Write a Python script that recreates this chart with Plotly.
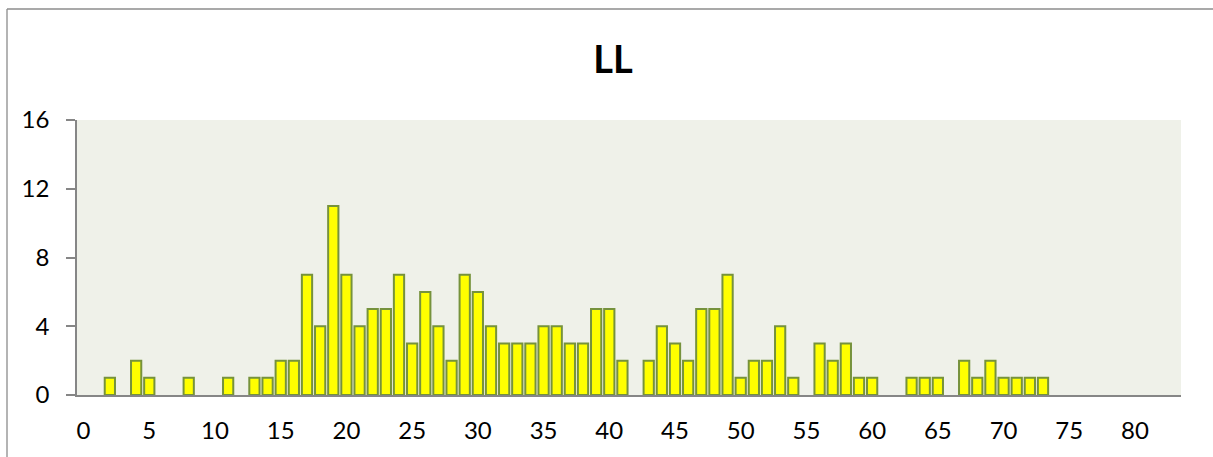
import plotly.graph_objects as go

# Data
categories = list(range(0, 84))
values = [0, 0, 1, 0, 2, 1, 0, 0, 1, 0,
          0, 1, 0, 1, 1, 2, 2, 7, 4, 11,
          7, 4, 5, 5, 7, 3, 6, 4, 2, 7,
          6, 4, 3, 3, 3, 4, 4, 3, 3, 5,
          5, 2, 0, 2, 4, 3, 2, 5, 5, 7,
          1, 2, 2, 4, 1, 0, 3, 2, 3, 1,
          1, 0, 0, 1, 1, 1, 0, 2, 1, 2,
          1, 1, 1, 1, 0, 0, 0, 0, 0, 0,
          0, 0, 0, 0]
x_tick_labels = [0, 5, 10, 15, 20, 25, 30, 35, 40, 45, 50, 55, 60, 65, 70, 75, 80]
y_tick_labels = [0, 4, 8, 12, 16]
title_text = "LL"

W, H = 1213, 457
L, R, T, B = 77, 1181, 120, 395

plot_y = [v if v != 0 else None for v in values]

fig = go.Figure()
fig.add_trace(go.Bar(
    x=categories,
    y=plot_y,
    marker=dict(color="#FFFF00", line=dict(color="#76923C", width=2)),
    hoverinfo="x+y",
))

def px_to_paper_x(px):
    return (px - L) / (R - L)

def px_to_paper_y(py):
    return (B - py) / (B - T)

shapes = [
    dict(type="line", xref="paper", yref="paper",
         x0=px_to_paper_x(7), x1=px_to_paper_x(1220),
         y0=px_to_paper_y(9), y1=px_to_paper_y(9),
         line=dict(color="#8C8C8C", width=1.3)),
    dict(type="line", xref="paper", yref="paper",
         x0=px_to_paper_x(7), x1=px_to_paper_x(7),
         y0=px_to_paper_y(9), y1=px_to_paper_y(470),
         line=dict(color="#8C8C8C", width=1.3)),
]

fig.update_layout(
    width=W, height=H,
    margin=dict(l=L, r=W - R, t=T, b=H - B, pad=0),
    paper_bgcolor="white",
    plot_bgcolor="#EFF1E9",
    font=dict(family="Lato, 'Open Sans', sans-serif", size=24, color="black"),
    title=dict(text="<b>" + title_text + "</b>", x=613 / W, xref="container",
               xanchor="center", y=1 - 60 / H, yref="container", yanchor="middle",
               font=dict(size=38, family="Lato, 'Open Sans', sans-serif", color="black")),
    bargap=0.22,
    showlegend=False,
    shapes=shapes,
)

fig.update_xaxes(
    range=[-0.5, 83.5],
    tickmode="array",
    tickvals=x_tick_labels,
    ticktext=[str(v) for v in x_tick_labels],
    tickfont=dict(size=24),
    showgrid=False, zeroline=False,
    showline=True, linecolor="#868686", linewidth=2,
    ticks="", ticklabelstandoff=13,
    fixedrange=True,
)
fig.update_yaxes(
    range=[0, 16],
    tickmode="array",
    tickvals=y_tick_labels,
    ticktext=[str(v) for v in y_tick_labels],
    tickfont=dict(size=24),
    showgrid=False, zeroline=False,
    showline=True, linecolor="#868686", linewidth=1.5,
    ticks="outside", ticklen=9, tickcolor="#868686", tickwidth=1.5,
    ticklabelstandoff=12,
    fixedrange=True,
)

fig.write_html("out.html", config={"displayModeBar": False},
               post_script="document.body.style.margin='0';document.body.style.overflow='hidden';")
